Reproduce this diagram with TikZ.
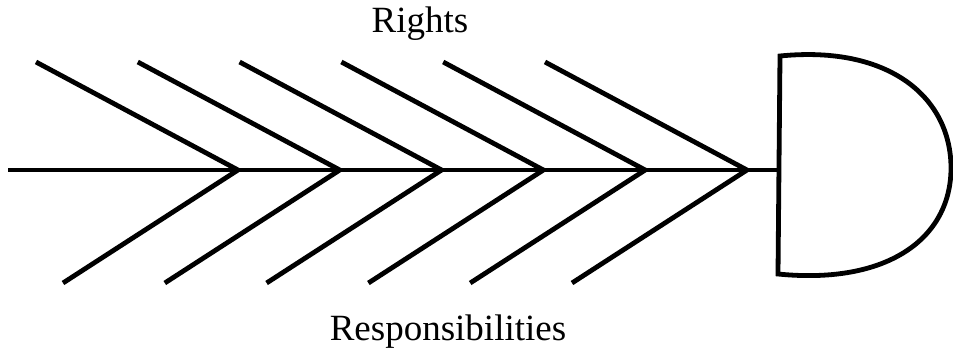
\documentclass[tikz,border=0pt]{standalone}
\usepackage{fontspec}
\setmainfont{Liberation Serif}
\usepackage{tikz}

\begin{document}
\begin{tikzpicture}[
    x=1pt, y=-1pt,
    bone/.style={line width=4.8pt, black, line join=miter},
    head/.style={line width=4.8pt, black, line join=miter},
    lbl/.style={font=\fontsize{37}{40}\selectfont, anchor=base},
]
\useasboundingbox (0,0) rectangle (953,356);

% Head
\coordinate (headtl) at (780,56);
\coordinate (headbl) at (778,274);
\coordinate (headr) at (951,168);
\draw[head] (headtl) .. controls (890,45) and (951,98) .. (headr)
    .. controls (951,238) and (888,285) .. (headbl) -- cycle;

% Spine
\coordinate (tail) at (8,170);
\coordinate (neck) at (780,170);
\draw[bone] (tail) -- (neck);

% Ribs
\foreach \i in {0,...,5} {
  \coordinate (joint\i) at ({238+101.8*\i},170);
  \coordinate (up\i) at ({36+101.8*\i},62);
  \coordinate (low\i) at ({63+101.8*\i},283);
  \draw[bone] (up\i) -- (joint\i) -- (low\i);
}

% Labels
\node[lbl] (rights) at (420,32) {Rights};
\node[lbl] (resp) at (448,340) {Responsibilities};

\end{tikzpicture}
\end{document}
